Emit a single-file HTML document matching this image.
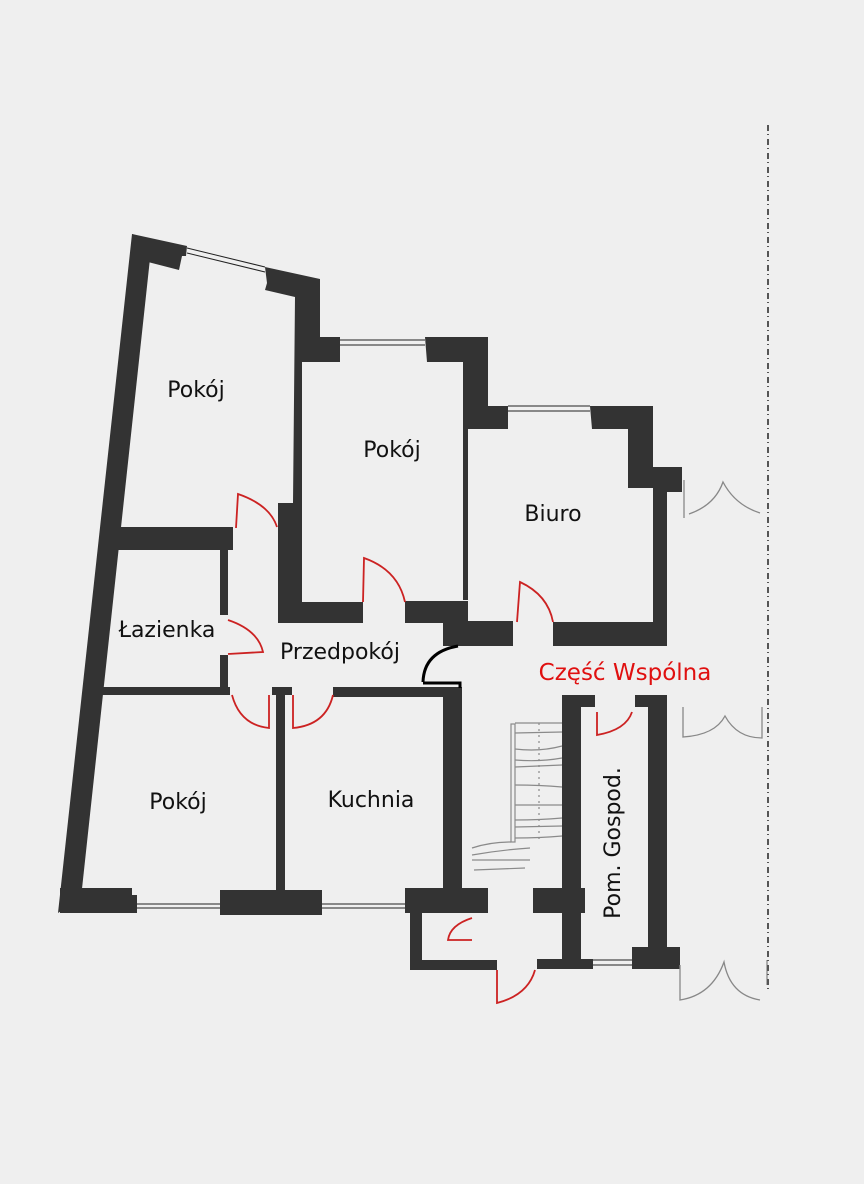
<!DOCTYPE html>
<html><head><meta charset="utf-8"><style>
html,body{margin:0;padding:0;background:#efefef;}
svg{display:block;}
text{font-family:"DejaVu Sans","Liberation Sans",sans-serif;}
</style></head><body>
<svg width="864" height="1184" viewBox="0 0 864 1184" xmlns="http://www.w3.org/2000/svg">
<rect width="864" height="1184" fill="#efefef"/>
<g fill="#333333">
<polygon points="132,234 152,240 81,898 58,913"/>
<polygon points="132,234 187,246 186,256 182,256 179,270 148,262"/>
<polygon points="265,267 320,279 320,337 340,337 340,362 302,362 302,503 293,503 295,297 265,290 267,283"/>
<polygon points="425,337 488,337 488,406 508,406 508,429 468,429 468,600 463,600 463,362 427,362"/>
<polygon points="590,406 653,406 653,467 682,467 682,492 667,492 667,646 653,646 653,488 628,488 628,429 592,429"/>
<rect x="553" y="622" width="114" height="24"/>
<rect x="278" y="503" width="24" height="120"/>
<rect x="278" y="602" width="85" height="21"/>
<rect x="405" y="601" width="63" height="22"/>
<rect x="443" y="621" width="70" height="25"/>
<rect x="103" y="527" width="130" height="23"/>
<rect x="220" y="549" width="8" height="66"/>
<rect x="220" y="655" width="8" height="33"/>
<rect x="96" y="687" width="134" height="8"/>
<rect x="272" y="687" width="20" height="8"/>
<rect x="276" y="694" width="9" height="196"/>
<rect x="333" y="687" width="129" height="10"/>
<rect x="443" y="687" width="19" height="203"/>
<rect x="60" y="888" width="72" height="25"/>
<rect x="132" y="895" width="5" height="18"/>
<rect x="220" y="890" width="102" height="25"/>
<rect x="405" y="888" width="83" height="25"/>
<rect x="410" y="912" width="12" height="58"/>
<rect x="410" y="960" width="87" height="10"/>
<rect x="562" y="695" width="33" height="12"/>
<rect x="562" y="695" width="19" height="274"/>
<rect x="533" y="888" width="52" height="25"/>
<rect x="537" y="959" width="56" height="10"/>
<rect x="635" y="695" width="32" height="12"/>
<rect x="648" y="695" width="19" height="265"/>
<rect x="632" y="947" width="48" height="22"/>
</g>
<g stroke="#222" stroke-width="1" fill="none">
<line x1="187" y1="248" x2="265" y2="267"/><line x1="187" y1="253" x2="265" y2="272"/>
<line x1="340" y1="340" x2="425" y2="340"/><line x1="340" y1="345" x2="425" y2="345"/>
<line x1="508" y1="406" x2="590" y2="406"/><line x1="508" y1="411" x2="590" y2="411"/>
<line x1="137" y1="904" x2="220" y2="904"/><line x1="137" y1="908" x2="220" y2="908"/>
<line x1="322" y1="904" x2="405" y2="904"/><line x1="322" y1="908" x2="405" y2="908"/>
<line x1="593" y1="960" x2="632" y2="960"/><line x1="593" y1="965" x2="632" y2="965"/>
</g>
<path d="M423,682 Q424,652 458,646 M423,683 L460,683 L460,688" stroke="#000" stroke-width="3" fill="none"/>
<g stroke="#cc2222" stroke-width="1.8" fill="none">
<path d="M236,528 L238,494 Q270,505 277,527"/>
<path d="M363,602 L364,558 Q398,570 405,602"/>
<path d="M517,622 L520,582 Q548,595 553,622"/>
<path d="M228,620 Q258,630 263,652 L228,654"/>
<path d="M232,695 Q240,725 269,728 L269,695"/>
<path d="M293,695 L293,728 Q326,725 333,695"/>
<path d="M597,712 L597,735 Q626,730 632,712"/>
<path d="M472,918 Q450,925 448,940 L472,940"/>
<path d="M497,970 L497,1003 Q528,995 535,970"/>
</g>
<g stroke="#8a8a8a" stroke-width="1.2" fill="none">
<rect x="511" y="724" width="4" height="118"/>
<path d="M515,723 L562,723 M515,733 L562,732 M515,749 Q540,752 562,746 M515,760 Q540,762 562,758 M515,767 L562,765 M515,785 Q540,785 562,787 M515,805 L562,805 M515,820 Q540,820 562,818 M515,827 L562,826 M515,838 Q540,838 562,836"/>
<path d="M472,848 Q490,842 511,842 M472,855 Q500,850 530,848"/>
<path d="M472,860 L530,860 M474,870 L525,868"/>
<line x1="539" y1="723" x2="539" y2="842" stroke-dasharray="2,4"/>
</g>
<g stroke="#888" stroke-width="1.3" fill="none">
<line x1="684" y1="480" x2="684" y2="518"/>
<path d="M689,514 Q715,505 723,482 Q735,505 760,513"/>
<path d="M683,707 L683,737 Q715,735 725,716 Q737,738 762,738 L762,707"/>
<path d="M680,965 L680,1000 Q712,995 724,962 Q730,995 760,1000 M767,960 L767,985"/>
</g>
<line x1="768" y1="125" x2="768" y2="990" stroke="#555" stroke-width="2" stroke-dasharray="6,3,1,4"/>
<g font-size="22" fill="#111">
<text x="196" y="397" text-anchor="middle">Pokój</text>
<text x="392" y="457" text-anchor="middle">Pokój</text>
<text x="553" y="521" text-anchor="middle">Biuro</text>
<text x="167" y="637" text-anchor="middle">Łazienka</text>
<text x="340" y="659" text-anchor="middle">Przedpokój</text>
<text x="178" y="809" text-anchor="middle">Pokój</text>
<text x="371" y="807" text-anchor="middle">Kuchnia</text>
<text x="620" y="843" text-anchor="middle" transform="rotate(-90 620 843)">Pom. Gospod.</text>
</g>
<text x="625" y="680" text-anchor="middle" font-size="23" fill="#e01010">Część Wspólna</text>
</svg>
</body></html>
